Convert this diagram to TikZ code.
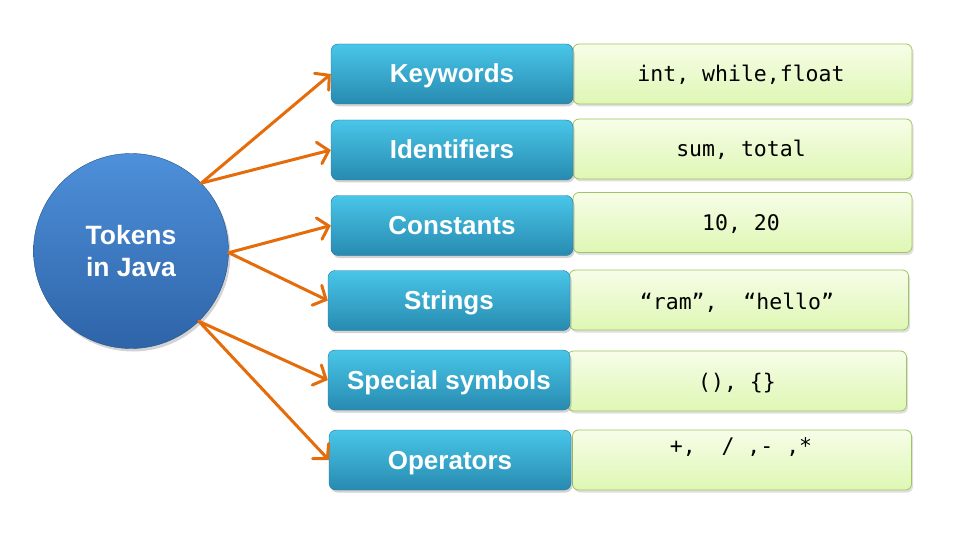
\documentclass[tikz,border=0pt]{standalone}
\usepackage{fontspec}
\setmainfont{Liberation Sans}
\newfontfamily\codefont{DejaVu Sans Mono}
\usetikzlibrary{positioning,shadows,arrows.meta}
\definecolor{ballTop}{RGB}{78,144,218}
\definecolor{ballBot}{RGB}{46,100,168}
\definecolor{tagTop}{RGB}{72,198,232}
\definecolor{tagBot}{RGB}{40,138,176}
\definecolor{valTop}{RGB}{247,253,232}
\definecolor{valBot}{RGB}{222,247,180}
\definecolor{valEdge}{RGB}{160,196,98}
\definecolor{arrowOrange}{RGB}{228,108,10}

\begin{document}
\begin{tikzpicture}[x=1pt,y=-1pt,
  ball/.style={circle,minimum size=195pt,inner sep=0pt,top color=ballTop,bottom color=ballBot,
    draw=ballBot!80!black,line width=0.4pt,drop shadow={opacity=0.35,shadow xshift=2pt,shadow yshift=-3pt},
    text=white,font=\fontsize{26.5}{32}\selectfont\bfseries,align=center},
  tag/.style={rectangle,rounded corners=7pt,minimum width=242pt,minimum height=60pt,inner sep=0pt,
    top color=tagTop,bottom color=tagBot,draw=tagBot!85!black,line width=0.4pt,
    drop shadow={opacity=0.35,shadow xshift=1.5pt,shadow yshift=-2.5pt},
    text height=19pt,text depth=1pt,
    text=white,font=\fontsize{26}{30}\selectfont\bfseries},
  val/.style={rectangle,rounded corners=6pt,minimum width=339pt,minimum height=60pt,inner sep=0pt,
    top color=valTop,bottom color=valBot,draw=valEdge,line width=0.8pt,
    drop shadow={opacity=0.25,shadow xshift=1.5pt,shadow yshift=-2.5pt}},
  code/.style={inner sep=0pt,text height=16pt,text depth=0pt,
    font=\codefont\fontsize{21.5}{24}\selectfont,text=black},
  link/.style={draw=arrowOrange,line width=3pt,line cap=round,
    -{Straight Barb[length=10pt,width=22pt,line cap=round]}}
]
\useasboundingbox (0,0) rectangle (960,540);

% value boxes (behind the labels)
\node[val] (kwval) at (742.5,74) {};
\node[val] (idval) at (742.5,149) {};
\node[val] (cnval) at (742.5,222.5) {};
\node[val] (stval) at (739,300) {};
\node[val] (spval) at (737,381) {};
\node[val] (opval) at (742,460) {};

% value texts
\node[code] (kwtxt) at (741,74) {int, while,float};
\node[code] (idtxt) at (741,149) {sum, total};
\node[code] (cntxt) at (741,222) {10, 20};
\node[code] (sttxt) at (737,301) {“ram”,~ “hello”};
\node[code] (sptxt) at (737,381) {(), \{\}};
\node[code] (optxt) at (741,445) {+,~ / ,- ,*};

% token kinds
\node[tag] (keywords) at (452,74) {Keywords};
\node[tag] (idents) at (452,150) {Identifiers};
\node[tag] (consts) at (452,225.5) {Constants};
\node[tag] (strings) at (449,300.5) {Strings};
\node[tag] (special) at (449,380) {Special symbols};
\node[tag] (opers) at (450,460) {Operators};

% the root
\node[ball] (tokens) at (131,251) {Tokens\\in Java};

% arrows
\draw[link] (tokens.44) -- (keywords.west);
\draw[link] (tokens.44) -- (idents.west);
\draw[link] (tokens.-1) -- (consts.west);
\draw[link] (tokens.-1) -- (strings.west);
\draw[link] (tokens.-46) -- (special.west);
\draw[link] (tokens.-46) -- (opers.west);
\end{tikzpicture}
\end{document}
